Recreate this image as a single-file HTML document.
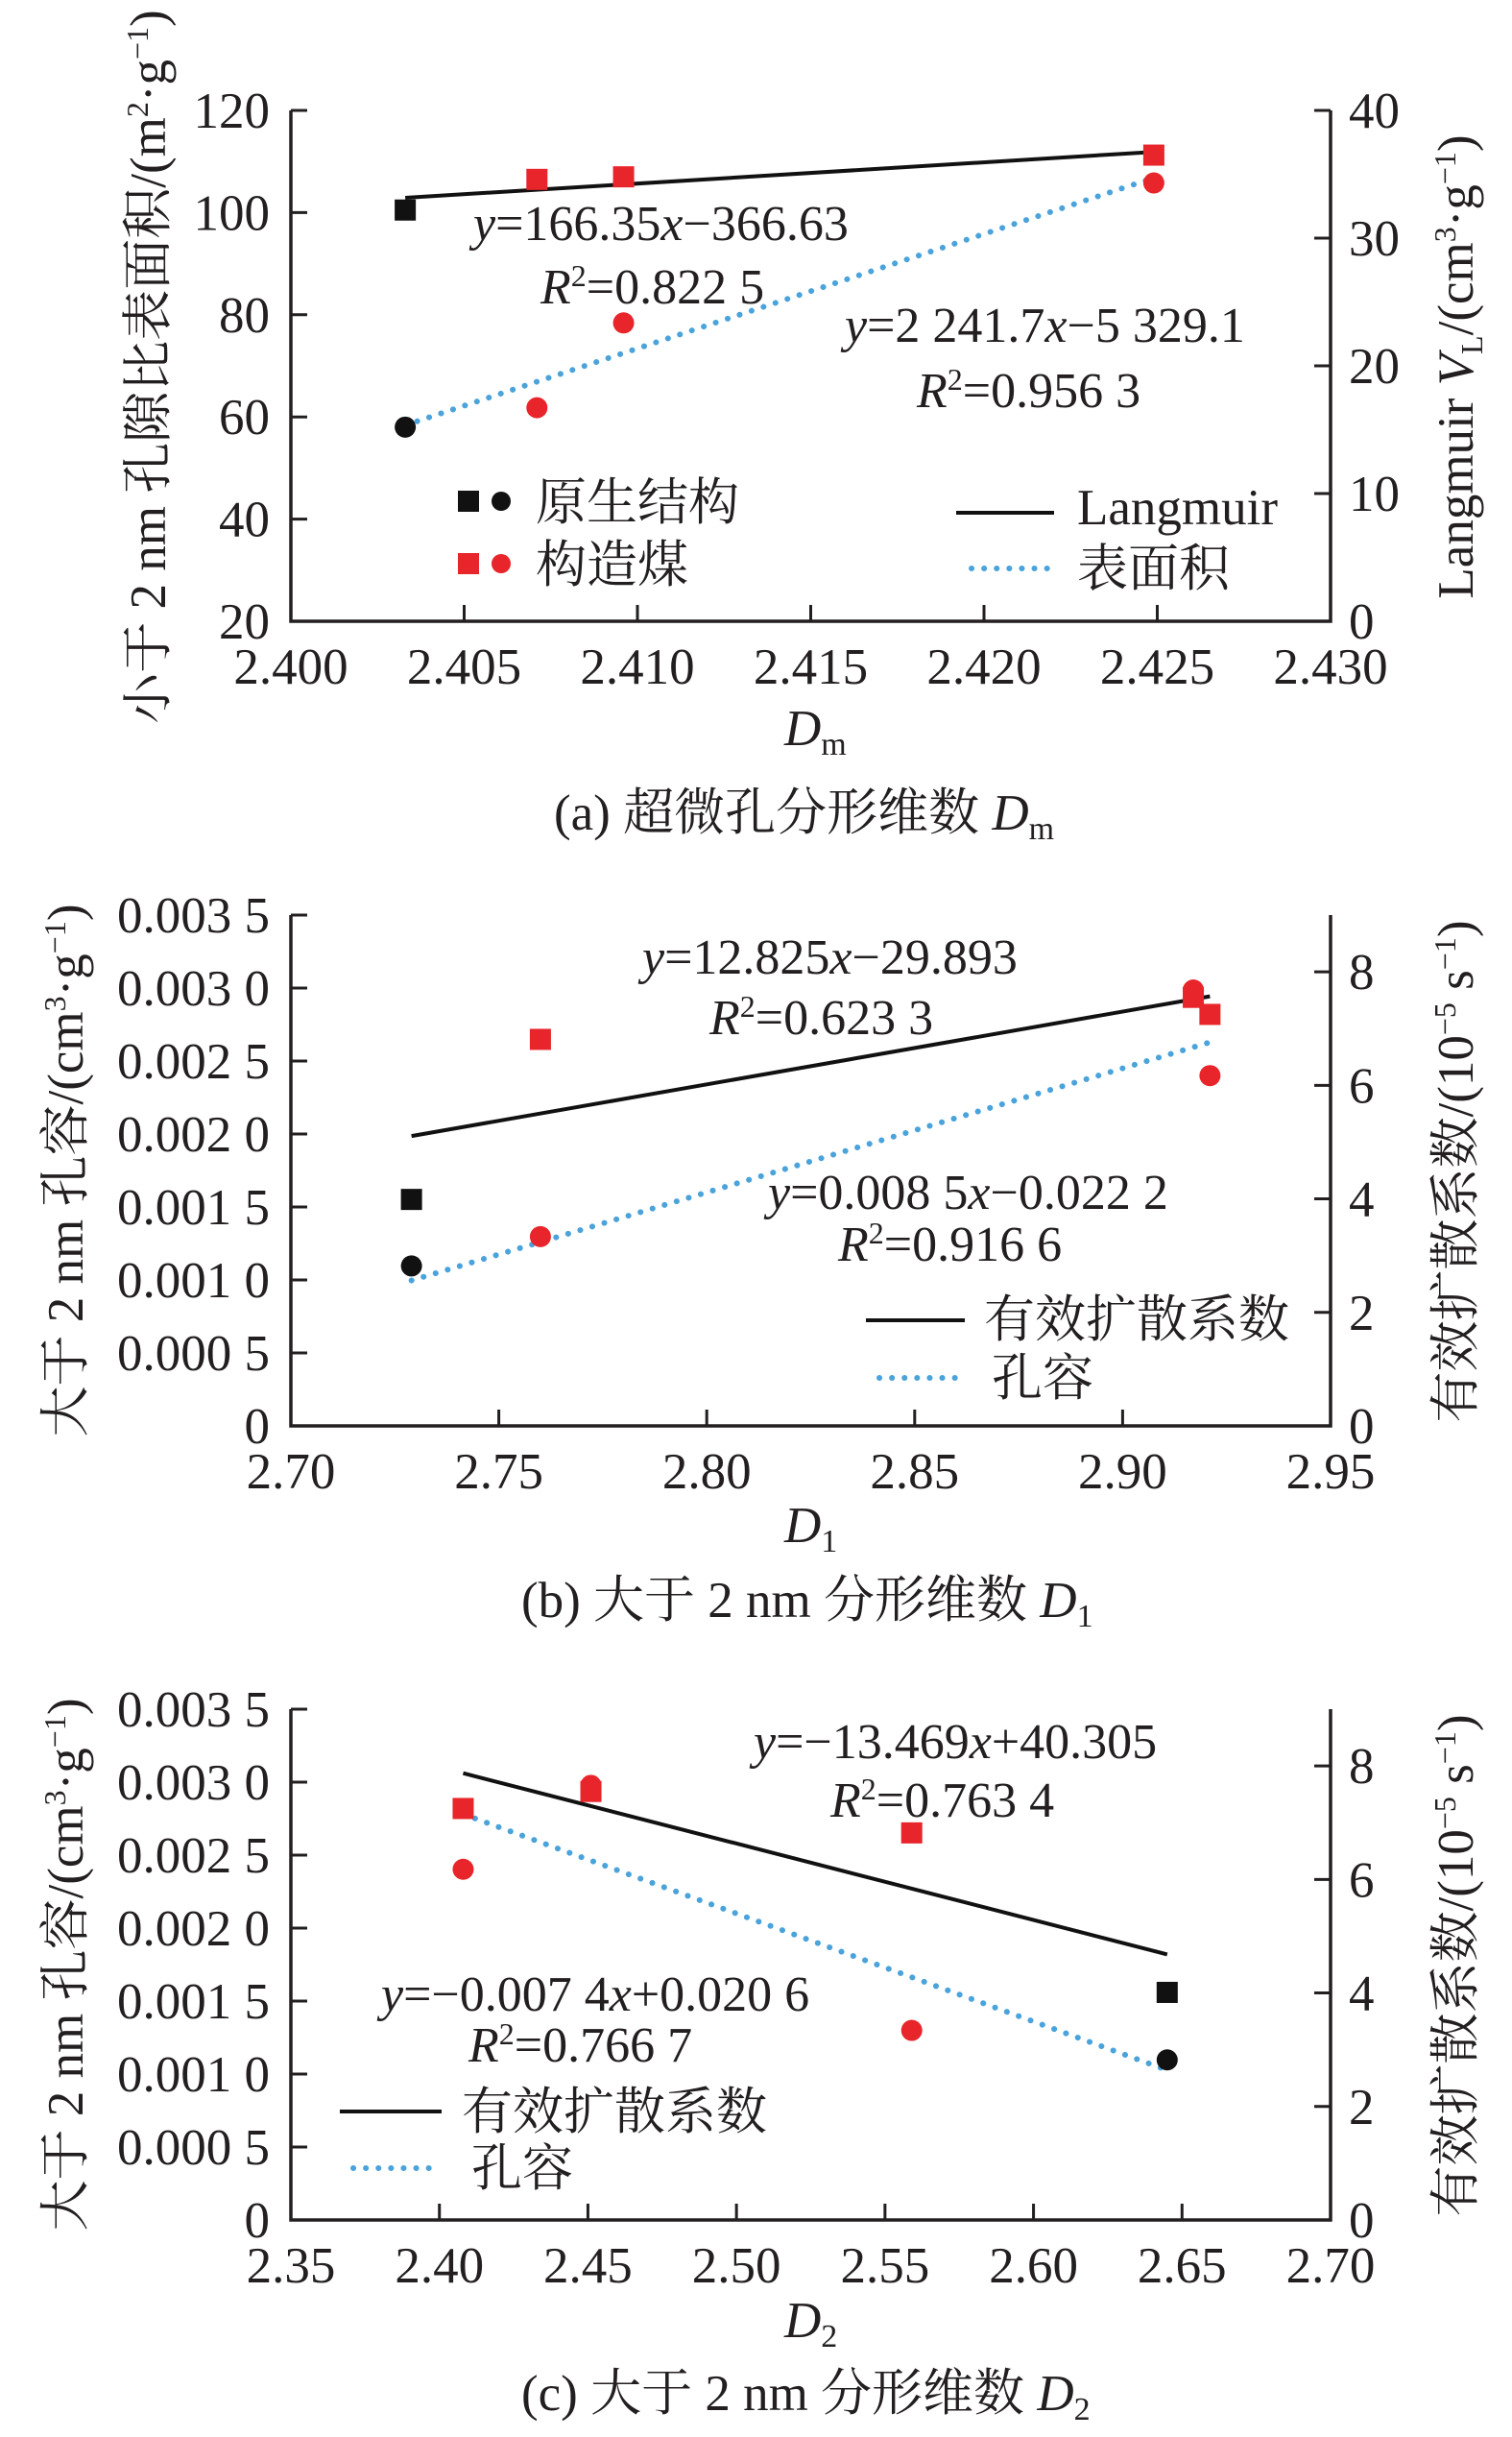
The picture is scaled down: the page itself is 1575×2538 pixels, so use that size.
<!DOCTYPE html>
<html><head><meta charset="utf-8"><style>
html,body{margin:0;padding:0;background:#fff}
svg{display:block;font-family:"Liberation Serif","Noto Serif CJK SC",serif;fill:#231f20}
.t{font-size:53px}.e{font-size:52px}.c{font-size:53px}
</style></head><body>
<svg id="fig" width="1575" height="2538" viewBox="0 0 1575 2538" xmlns="http://www.w3.org/2000/svg">
<g id="ga">
 <text class="c" transform="translate(172,382) rotate(-90)" text-anchor="middle">小于 2 nm 孔隙比表面积/(m<tspan dy="-18" font-size="32">2</tspan><tspan dy="18">·g</tspan><tspan dy="-18" font-size="32">−1</tspan><tspan dy="18">)</tspan></text>
 <text class="c" transform="translate(1534,382) rotate(-90)" text-anchor="middle">Langmuir <tspan font-style="italic">V</tspan><tspan dy="10" font-size="32">L</tspan><tspan dy="-10">/(cm</tspan><tspan dy="-18" font-size="32">3</tspan><tspan dy="18">·g</tspan><tspan dy="-18" font-size="32">−1</tspan><tspan dy="18">)</tspan></text>
 <text class="c" x="817" y="776" font-style="italic">D<tspan font-style="normal" font-size="34" dy="10">m</tspan></text>
 <text class="c" x="577" y="864">(a) 超微孔分形维数 <tspan font-style="italic">D</tspan><tspan font-size="34" dy="10">m</tspan></text>
 <text class="e" x="493" y="250"><tspan font-style="italic">y</tspan>=166.35<tspan font-style="italic">x</tspan>−366.63</text>
 <text class="e" x="563" y="316"><tspan font-style="italic">R</tspan><tspan dy="-18" font-size="32">2</tspan><tspan dy="18">=0.822 5</tspan></text>
 <text class="e" x="880" y="356"><tspan font-style="italic">y</tspan>=2 241.7<tspan font-style="italic">x</tspan>−5 329.1</text>
 <text class="e" x="955" y="424"><tspan font-style="italic">R</tspan><tspan dy="-18" font-size="32">2</tspan><tspan dy="18">=0.956 3</tspan></text>
 <g>
  <rect x="477" y="511" width="22" height="22" fill="#111"/>
  <circle cx="522" cy="522" r="10" fill="#111"/>
  <text class="c" x="558" y="541">原生结构</text>
  <rect x="477" y="576" width="22" height="22" fill="#e8252b"/>
  <circle cx="522" cy="587" r="10" fill="#e8252b"/>
  <text class="c" x="558" y="606">构造煤</text>
  <line x1="996" y1="534" x2="1098" y2="534" stroke="#111" stroke-width="4"/>
  <text class="c" x="1122" y="546">Langmuir</text>
  <line x1="1012" y1="592" x2="1098" y2="592" stroke="#4aa3db" stroke-width="6" stroke-dasharray="0.1 13" stroke-linecap="round"/>
  <text class="c" x="1122" y="610">表面积</text>
 </g>
</g>
<g id="gb">
 <text class="c" transform="translate(86,1219) rotate(-90)" text-anchor="middle">大于 2 nm 孔容/(cm<tspan dy="-18" font-size="32">3</tspan><tspan dy="18">·g</tspan><tspan dy="-18" font-size="32">−1</tspan><tspan dy="18">)</tspan></text>
 <text class="c" transform="translate(1534,1220) rotate(-90)" text-anchor="middle">有效扩散系数/(10<tspan dy="-18" font-size="32">−5</tspan><tspan dy="18"> s</tspan><tspan dy="-18" font-size="32">−1</tspan><tspan dy="18">)</tspan></text>
 <text class="c" x="817" y="1606" font-style="italic">D<tspan font-style="normal" font-size="34" dy="10">1</tspan></text>
 <text class="c" x="543" y="1684">(b) 大于 2 nm 分形维数 <tspan font-style="italic">D</tspan><tspan font-size="34" dy="10">1</tspan></text>
 <text class="e" x="669" y="1014"><tspan font-style="italic">y</tspan>=12.825<tspan font-style="italic">x</tspan>−29.893</text>
 <text class="e" x="739" y="1077"><tspan font-style="italic">R</tspan><tspan dy="-18" font-size="32">2</tspan><tspan dy="18">=0.623 3</tspan></text>
 <text class="e" x="800" y="1259"><tspan font-style="italic">y</tspan>=0.008 5<tspan font-style="italic">x</tspan>−0.022 2</text>
 <text class="e" x="873" y="1313"><tspan font-style="italic">R</tspan><tspan dy="-18" font-size="32">2</tspan><tspan dy="18">=0.916 6</tspan></text>
 <line x1="902" y1="1375" x2="1005" y2="1375" stroke="#111" stroke-width="4"/>
 <text class="c" x="1025" y="1392">有效扩散系数</text>
 <line x1="916" y1="1435" x2="1003" y2="1435" stroke="#4aa3db" stroke-width="6" stroke-dasharray="0.1 13" stroke-linecap="round"/>
 <text class="c" x="1033" y="1453">孔容</text>
</g>
<g id="gc">
 <text class="c" transform="translate(86,2046) rotate(-90)" text-anchor="middle">大于 2 nm 孔容/(cm<tspan dy="-18" font-size="32">3</tspan><tspan dy="18">·g</tspan><tspan dy="-18" font-size="32">−1</tspan><tspan dy="18">)</tspan></text>
 <text class="c" transform="translate(1534,2047) rotate(-90)" text-anchor="middle">有效扩散系数/(10<tspan dy="-18" font-size="32">−5</tspan><tspan dy="18"> s</tspan><tspan dy="-18" font-size="32">−1</tspan><tspan dy="18">)</tspan></text>
 <text class="c" x="817" y="2434" font-style="italic">D<tspan font-style="normal" font-size="34" dy="10">2</tspan></text>
 <text class="c" x="543" y="2510">(c) 大于 2 nm 分形维数 <tspan font-style="italic">D</tspan><tspan font-size="34" dy="10">2</tspan></text>
 <text class="e" x="785" y="1831"><tspan font-style="italic">y</tspan>=−13.469<tspan font-style="italic">x</tspan>+40.305</text>
 <text class="e" x="865" y="1892"><tspan font-style="italic">R</tspan><tspan dy="-18" font-size="32">2</tspan><tspan dy="18">=0.763 4</tspan></text>
 <text class="e" x="397" y="2094"><tspan font-style="italic">y</tspan>=−0.007 4<tspan font-style="italic">x</tspan>+0.020 6</text>
 <text class="e" x="488" y="2147"><tspan font-style="italic">R</tspan><tspan dy="-18" font-size="32">2</tspan><tspan dy="18">=0.766 7</tspan></text>
 <line x1="354" y1="2199" x2="460" y2="2199" stroke="#111" stroke-width="4"/>
 <text class="c" x="481" y="2217">有效扩散系数</text>
 <line x1="368" y1="2258" x2="458" y2="2258" stroke="#4aa3db" stroke-width="6" stroke-dasharray="0.1 13" stroke-linecap="round"/>
 <text class="c" x="491" y="2276">孔容</text>
</g>
</svg>
<script>
// ---- chart a data ----
const aXTicks = ["2.400","2.405","2.410","2.415","2.420","2.425","2.430"];
const aLeftTicks = ["20","40","60","80","100","120"];
const aRightTicks = ["0","10","20","30","40"];
const aPrimX = [2.4033];
const aPrimLangmuir = [32.2];
const aPrimSurface = [58.0];
const aTectX = [2.4071, 2.4096, 2.4249];
const aTectLangmuir = [34.6, 34.8, 36.5];
const aTectSurface = [61.8, 78.4, 105.8];
const aFitX = [2.4033, 2.4249];
const aFitLangmuirCoef = [166.35, -366.63];
const aFitSurfaceCoef = [2241.7, -5329.1];
// ---- chart b data ----
const bXTicks = ["2.70","2.75","2.80","2.85","2.90","2.95"];
const bLeftTicks = ["0","0.000 5","0.001 0","0.001 5","0.002 0","0.002 5","0.003 0","0.003 5"];
const bRightTicks = ["0","2","4","6","8"];
const bPrimX = [2.729];
const bPrimDiff = [3.99];
const bPrimPore = [0.001096];
const bTectX = [2.760, 2.917, 2.921];
const bTectDiff = [6.81, 7.55, 7.25];
const bTectPore = [0.001297, 0.002987, 0.002400];
const bFitX = [2.729, 2.921];
const bFitDiffCoef = [12.825, -29.893];
const bFitPoreCoef = [0.0085, -0.0222];
// ---- chart c data ----
const cXTicks = ["2.35","2.40","2.45","2.50","2.55","2.60","2.65","2.70"];
const cLeftTicks = ["0","0.000 5","0.001 0","0.001 5","0.002 0","0.002 5","0.003 0","0.003 5"];
const cRightTicks = ["0","2","4","6","8"];
const cPrimX = [2.645];
const cPrimDiff = [4.01];
const cPrimPore = [0.001097];
const cTectX = [2.408, 2.451, 2.559];
const cTectDiff = [7.25, 7.55, 6.82];
const cTectPore = [0.002403, 0.002978, 0.001299];
const cFitX = [2.408, 2.645];
const cFitDiffCoef = [-13.469, 40.305];
const cFitPoreCoef = [-0.0074, 0.0206];

const NS = "http://www.w3.org/2000/svg";
const RED = "#e8252b", BLK = "#111", BLUE = "#4aa3db";
function mk(tag, attrs, parent){const e=document.createElementNS(NS,tag);for(const k in attrs)e.setAttribute(k,attrs[k]);parent.appendChild(e);return e;}

function drawChart(g, cfg){
  const L=303,R=1386,T=cfg.top,B=cfg.bottom;
  const sx=v=>L+(v-cfg.xd[0])/(cfg.xd[1]-cfg.xd[0])*(R-L);
  const syL=v=>B-(v-cfg.ld[0])/(cfg.ld[1]-cfg.ld[0])*(B-T);
  const syR=v=>B-(v-cfg.rd[0])/(cfg.rd[1]-cfg.rd[0])*(B-T);
  const ax=mk('path',{d:`M${L},${T}V${B}H${R}V${T}`,fill:'none',stroke:'#231f20','stroke-width':3.5},g);
  
  
  cfg.xt.forEach((s,i)=>{
    const v=cfg.xd[0]+i*(cfg.xd[1]-cfg.xd[0])/(cfg.xt.length-1);
    const x=sx(v);
    if(i>0&&i<cfg.xt.length-1){const t=mk('line',{x1:x,y1:B,x2:x,y2:B-17,stroke:'#231f20','stroke-width':3},g);
      
      }
    const tx=mk('text',{x:x,y:B+65,'text-anchor':'middle',class:'t'},g);tx.textContent=s;
    
    
  });
  cfg.lt.forEach((s,i)=>{
    const v=cfg.ld[0]+i*cfg.lstep;const y=syL(v);
    if(i>0){const t=mk('line',{x1:L,y1:y,x2:L+17,y2:y,stroke:'#231f20','stroke-width':3},g);
      
      }
    const tx=mk('text',{x:281,y:y+18,'text-anchor':'end',class:'t'},g);tx.textContent=s;
    
    
  });
  cfg.rt.forEach((s,i)=>{
    const v=cfg.rd[0]+i*cfg.rstep;const y=syR(v);
    if(i>0){const t=mk('line',{x1:R,y1:y,x2:R-17,y2:y,stroke:'#231f20','stroke-width':3},g);
      
      }
    const tx=mk('text',{x:1405,y:y+18,class:'t'},g);tx.textContent=s;
    
    
  });
  const f=(c,x)=>c[0]*x+c[1];
  const lr=mk('line',{x1:sx(cfg.fx[0]),y1:syR(f(cfg.fr,cfg.fx[0])),x2:sx(cfg.fx[1]),y2:syR(f(cfg.fr,cfg.fx[1])),stroke:BLK,'stroke-width':4},g);
  
  
  const ll=mk('line',{x1:sx(cfg.fx[0]),y1:syL(f(cfg.fl,cfg.fx[0])),x2:sx(cfg.fx[1]),y2:syL(f(cfg.fl,cfg.fx[1])),stroke:BLUE,'stroke-width':6,'stroke-dasharray':'0.1 13','stroke-linecap':'round'},g);
  
  
  const sq=(x,y,col)=>{const r=mk('rect',{x:x-11,y:y-11,width:22,height:22,fill:col},g);
    
    };
  const ci=(x,y,col)=>{const c=mk('circle',{cx:x,cy:y,r:11,fill:col},g);
    
    };
  cfg.px.forEach((x,i)=>{sq(sx(x),syR(cfg.pr[i]),BLK);ci(sx(x),syL(cfg.pl[i]),BLK);});
  cfg.tx.forEach((x,i)=>{sq(sx(x),syR(cfg.tr[i]),RED);ci(sx(x),syL(cfg.tl[i]),RED);});
}
drawChart(document.getElementById('ga'),{top:115,bottom:647,xd:[2.400,2.430],ld:[20,120],lstep:20,rd:[0,40],rstep:10,
  xt:aXTicks,lt:aLeftTicks,rt:aRightTicks,px:aPrimX,pr:aPrimLangmuir,pl:aPrimSurface,tx:aTectX,tr:aTectLangmuir,tl:aTectSurface,fx:aFitX,fr:aFitLangmuirCoef,fl:aFitSurfaceCoef});
drawChart(document.getElementById('gb'),{top:953,bottom:1485,xd:[2.70,2.95],ld:[0,0.0035],lstep:0.0005,rd:[0,9],rstep:2,
  xt:bXTicks,lt:bLeftTicks,rt:bRightTicks,px:bPrimX,pr:bPrimDiff,pl:bPrimPore,tx:bTectX,tr:bTectDiff,tl:bTectPore,fx:bFitX,fr:bFitDiffCoef,fl:bFitPoreCoef});
drawChart(document.getElementById('gc'),{top:1780,bottom:2312,xd:[2.35,2.70],ld:[0,0.0035],lstep:0.0005,rd:[0,9],rstep:2,
  xt:cXTicks,lt:cLeftTicks,rt:cRightTicks,px:cPrimX,pr:cPrimDiff,pl:cPrimPore,tx:cTectX,tr:cTectDiff,tl:cTectPore,fx:cFitX,fr:cFitDiffCoef,fl:cFitPoreCoef});
</script>
</body></html>
